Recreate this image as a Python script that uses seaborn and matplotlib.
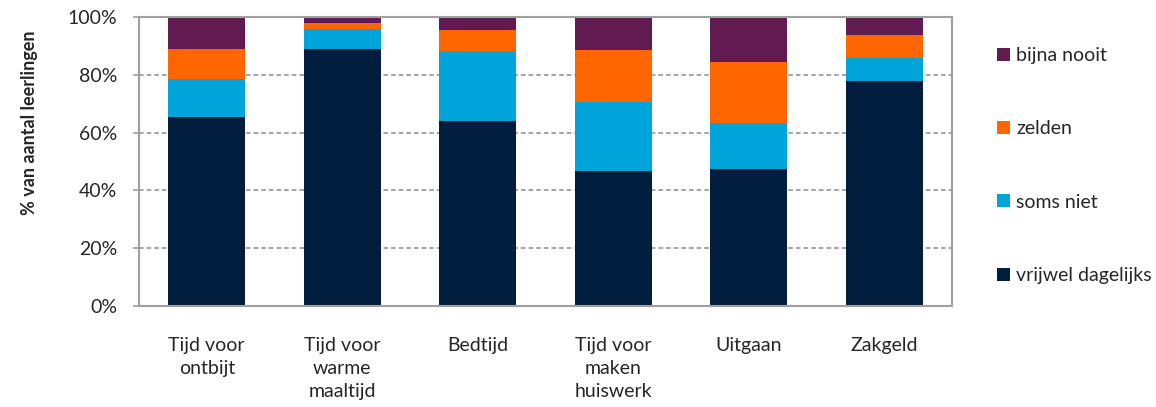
import numpy as np
import pandas as pd
import matplotlib
matplotlib.use("Agg")
import matplotlib.pyplot as plt
import seaborn as sns

sns.set_style("white")
plt.rcParams['font.family'] = ['Lato', 'DejaVu Sans']

# data (percentages per category)
categories = ["Tijd voor\nontbijt", "Tijd voor\nwarme\nmaaltijd", "Bedtijd",
              "Tijd voor\nmaken\nhuiswerk", "Uitgaan", "Zakgeld"]
vrijwel_dagelijks = [65.3, 89.0, 64.1, 46.7, 47.4, 78.0]
soms_niet = [13.1, 6.8, 24.2, 24.0, 15.8, 7.9]
zelden = [10.6, 2.2, 7.2, 17.9, 21.2, 7.9]
bijna_nooit = [11.0, 2.0, 4.5, 11.4, 15.6, 6.2]

series_names = ["vrijwel dagelijks", "soms niet", "zelden", "bijna nooit"]
series_values = [vrijwel_dagelijks, soms_niet, zelden, bijna_nooit]
colors = ["#001D3D", "#00A3DA", "#FF6600", "#621B51"]

df = pd.DataFrame({name: vals for name, vals in zip(series_names, series_values)})
df["Categorie"] = categories
cum = df[series_names].cumsum(axis=1)

fig = plt.figure(figsize=(11.56, 4.07), dpi=100)
ax = fig.add_axes([139 / 1156, 1 - 306 / 407, (952 - 139) / 1156, (306 - 17) / 407])

# stacked bars: draw the tallest (cumulative) first, going down
for name, color in reversed(list(zip(series_names, colors))):
    sns.barplot(x=df["Categorie"], y=cum[name], color=color, width=0.57,
                label=name, ax=ax, saturation=1, edgecolor="none")
if ax.get_legend() is not None:
    ax.get_legend().remove()

ax.set_ylim(0, 100)
ax.set_yticks([0, 20, 40, 60, 80, 100])
ax.set_yticklabels([f"{t}%" for t in [0, 20, 40, 60, 80, 100]])
for y in [20, 40, 60, 80]:
    ax.axhline(y, color="#8C8C8C", linestyle=(0, (3, 2)), linewidth=1.1, zorder=0)
ax.set_axisbelow(True)

for side in ["left", "bottom", "top", "right"]:
    ax.spines[side].set_color("#A0A0A0")
    ax.spines[side].set_linewidth(1.5)

ax.tick_params(axis="y", which="major", direction="out", length=4.5, width=1.2,
               color="#A0A0A0", pad=11, labelsize=14, left=True)
ax.tick_params(axis="x", length=0, pad=22, labelsize=14)
for lbl in ax.get_xticklabels():
    lbl.set_linespacing(1.45)

ax.set_xlabel("")
ax.set_ylabel("% van aantal leerlingen", fontsize=13, fontweight="bold")
ax.yaxis.set_label_coords(-0.124, 0.633)

handles, labels = ax.get_legend_handles_labels()
fig.legend(handles, labels, loc="center left", bbox_to_anchor=(997 / 1156, 1 - 165.5 / 407),
           frameon=False, fontsize=14, handlelength=0.65, handleheight=0.65,
           handletextpad=0.35, labelspacing=2.9, borderpad=0, borderaxespad=0)

plt.savefig("out.png", dpi=100)
